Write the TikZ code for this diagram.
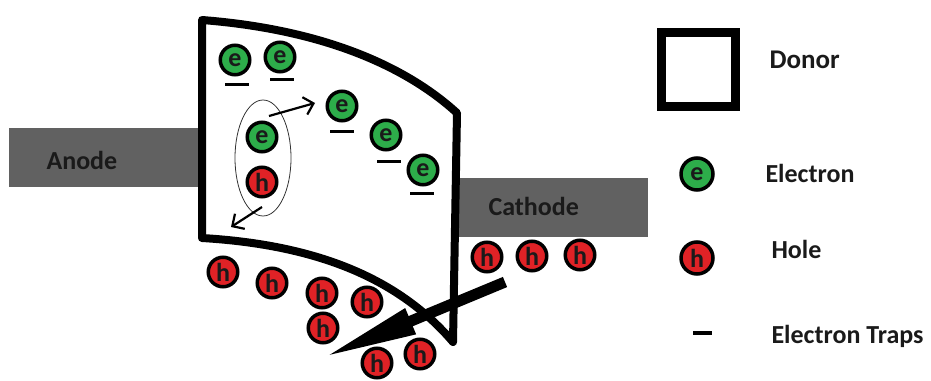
\documentclass[tikz,border=0pt]{standalone}
\usepackage{fontspec}
\setmainfont{Carlito}
\usetikzlibrary{arrows.meta,shapes.geometric}
\definecolor{elgreen}{HTML}{2DAD4A}
\definecolor{holered}{HTML}{E02226}
\definecolor{electrodegray}{HTML}{616161}
\definecolor{txt}{HTML}{1A1A1A}
\begin{document}
\begin{tikzpicture}[x=1pt,y=-1pt,
  every node/.style={font=\fontsize{26}{30}\selectfont\bfseries, text=txt},
  electrode/.style={fill=electrodegray, draw=none, inner sep=0, minimum width=191pt, minimum height=59pt},
  particle/.style={circle, draw=black, line width=3.5pt, minimum size=29.5pt, inner sep=0, font=\fontsize{26}{26}\selectfont\bfseries, text depth=0pt},
  electron/.style={particle, fill=elgreen, text height=12pt},
  hole/.style={particle, fill=holered, text height=18pt},
  trap/.style={fill=black, inner sep=0, minimum width=24pt, minimum height=3pt},
  lbl/.style={anchor=base west},
  smallarrow/.style={line width=2.2pt, -{Straight Barb[length=9pt,width=18pt]}},
]
\useasboundingbox (0,0) rectangle (931,380);

% electrodes
\node[electrode] (anode) at (104.5,157.5) {};
\node[lbl] (anodetxt) at (43,169) {Anode};
\node[electrode] (cathode) at (552.5,207.5) {};
\node[lbl] (cathodetxt) at (485,215) {Cathode};

% donor outline
\draw[line width=8pt, line join=round]
  (202,238) -- (202,20) .. controls (330,30) and (410,70) .. (457,113)
  -- (453,342) .. controls (400,280) and (320,245) .. cycle;

% electrons and traps inside donor
\node[electron] (e1) at (235,60) {e};
\node[electron] (e2) at (280,57) {e};
\node[trap] (t1) at (237,84) {};
\node[trap] (t2) at (282,79) {};
\node[electron] (e3) at (342,106) {e};
\node[trap] (t3) at (342,131) {};
\node[electron] (e4) at (386,135) {e};
\node[trap] (t4) at (389,161) {};
\node[electron] (e5) at (423,170) {e};
\node[trap] (t5) at (422,193) {};

% exciton pair
\node[draw=black!80, line width=0.8pt, ellipse, minimum width=56pt, minimum height=116pt, inner sep=0] (pair) at (263,158) {};
\node[electron] (pe) at (262,137) {e};
\node[hole] (ph) at (262,182) {h};
\coordinate (a1s) at (269,116);
\coordinate (a1e) at (315,103);
\coordinate (a2s) at (262,207);
\coordinate (a2e) at (231,227);
\draw[smallarrow] (a1s) -- (a1e);
\draw[smallarrow] (a2s) -- (a2e);

% holes outside
\node[hole] (h1) at (223,272) {h};
\node[hole] (h2) at (272,283) {h};
\node[hole] (h3) at (322,293) {h};
\node[hole] (h4) at (367,302) {h};
\node[hole] (h5) at (323,328) {h};
\node[hole] (h6) at (377,363) {h};
\node[hole] (h7) at (420,354) {h};
\node[hole] (h8) at (487,257) {h};
\node[hole] (h9) at (532,256) {h};
\node[hole] (h10) at (580,255) {h};

% big arrow
\coordinate (bigS) at (505,282);
\coordinate (bigE) at (322,358);
\draw[line width=11pt, -{Triangle[length=96pt,width=25pt]}] (bigS) -- (bigE);

% legend
\node[draw=black, line width=9pt, minimum size=74pt, inner sep=0] (legdonor) at (698,69) {};
\node[lbl, font=\fontsize{27}{30}\selectfont\bfseries] (legdonortxt) at (766,68) {Donor};
\node[electron, minimum size=32pt] (lege) at (697,174) {e};
\node[lbl] (legetxt) at (762,182) {Electron};
\node[hole, minimum size=32pt] (legh) at (697,258) {h};
\node[lbl] (leghtxt) at (768,258) {Hole};
\node[trap, minimum width=19pt, minimum height=4pt] (legt) at (702,333) {};
\node[lbl] (legttxt) at (768,343) {Electron Traps};
\end{tikzpicture}
\end{document}
